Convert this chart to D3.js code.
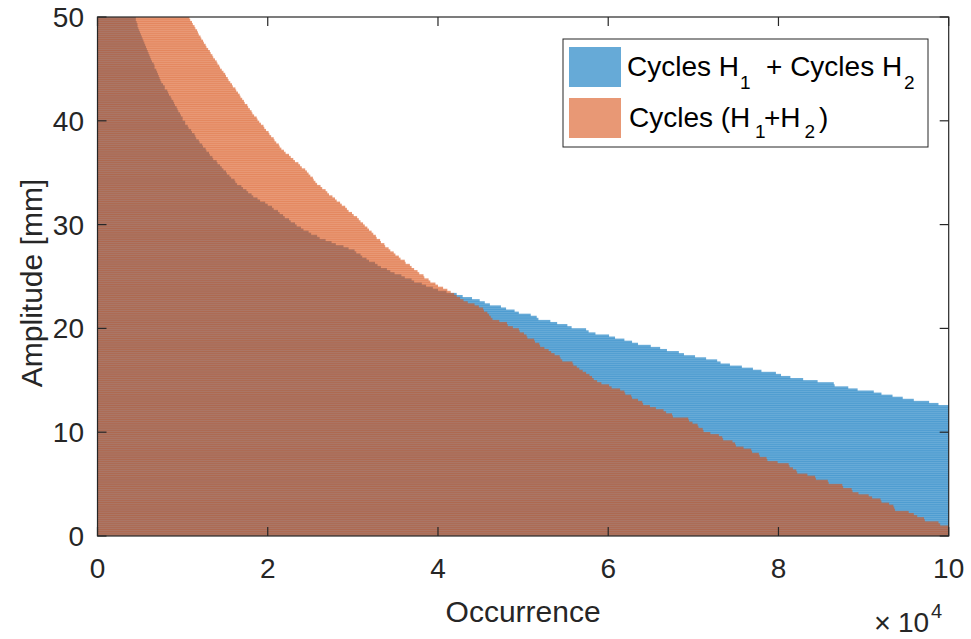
<!DOCTYPE html>
<html>
<head>
<meta charset="utf-8">
<script src="https://cdn.jsdelivr.net/npm/d3@7"></script>
<style>
  body { margin: 0; background: #fff; }
  svg { display: block; }
  text { font-family: "Liberation Sans", Arial, Helvetica, sans-serif; }
</style>
</head>
<body>
<svg id="chart" width="971" height="639"></svg>
<script>
// Amplitude bins: 0.2 mm wide, starting at 0 mm
const binWidth = 0.2;

// Occurrences per amplitude bin, in thousands of cycles
// Cycles H1 + Cycles H2 (counted separately, then added)
const separateCycles = [
  174.2, 173.0, 171.7, 170.5, 169.4, 168.1, 166.9, 165.8, 164.5, 163.3,
  162.2, 160.9, 159.7, 158.6, 157.3, 156.1, 155.0, 153.7, 152.5, 151.4,
  150.1, 148.9, 147.8, 146.5, 145.3, 144.2, 142.9, 141.7, 140.6, 139.3,
  138.1, 137.0, 135.7, 134.5, 133.4, 132.1, 130.9, 129.8, 128.5, 127.3,
  126.2, 124.9, 123.7, 122.6, 121.3, 120.1, 119.0, 117.7, 116.5, 115.4,
  114.1, 112.9, 111.8, 110.5, 109.3, 108.2, 106.9, 105.7, 104.6, 103.3,
  102.1, 100.9, 100.2, 98.8, 97.7, 95.9, 94.6, 93.4, 92.1, 91.2,
  89.3, 88.2, 86.6, 86.5, 84.6, 82.9, 81.4, 80.3, 79.7, 78.0,
  77.0, 75.7, 74.3, 73.2, 72.8, 71.5, 70.2, 68.9, 68.3, 66.9,
  66.1, 65.0, 63.5, 62.8, 61.9, 60.8, 60.1, 58.5, 57.7, 57.4,
  55.7, 55.2, 54.0, 53.2, 51.8, 51.6, 50.9, 49.5, 49.0, 48.0,
  47.4, 46.1, 45.5, 44.9, 44.0, 42.9, 42.2, 41.0, 40.0, 39.4,
  38.6, 38.1, 37.2, 36.9, 36.1, 35.7, 34.9, 34.4, 34.0, 33.3,
  32.9, 32.6, 31.9, 31.6, 31.1, 30.9, 30.4, 30.2, 29.5, 28.9,
  28.0, 27.5, 26.8, 26.1, 25.8, 25.1, 24.8, 24.2, 23.9, 23.4,
  23.2, 22.7, 22.5, 22.0, 21.8, 21.4, 21.2, 20.7, 20.5, 20.0,
  19.7, 19.1, 18.8, 18.3, 18.1, 17.7, 17.5, 17.1, 16.9, 16.4,
  16.2, 16.1, 15.7, 15.5, 15.2, 15.1, 14.8, 14.6, 14.4, 14.1,
  14.0, 13.6, 13.5, 13.2, 13.1, 12.8, 12.7, 12.4, 12.3, 12.0,
  11.9, 11.6, 11.5, 11.4, 11.1, 11.0, 10.7, 10.6, 10.3, 10.3,
  10.0, 10.0, 9.8, 9.7, 9.5, 9.4, 9.3, 9.1, 9.0, 8.9,
  8.7, 8.6, 8.4, 8.3, 8.2, 7.9, 7.9, 7.7, 7.5, 7.4,
  7.3, 7.2, 7.1, 7.0, 6.9, 6.7, 6.7, 6.6, 6.4, 6.3,
  6.2, 6.1, 6.0, 5.9, 5.8, 5.7, 5.6, 5.5, 5.4, 5.3,
  5.2, 5.1, 5.0, 4.9, 4.8, 4.7, 4.7, 4.6, 4.5, 4.5
];

// Cycles (H1+H2) (counted on the combined signal)
const combinedCycles = [
  104.8, 103.5, 102.2, 101.0, 100.3, 99.0, 98.8, 97.2, 97.1, 96.3,
  95.9, 95.3, 93.7, 93.6, 93.5, 93.0, 92.1, 92.0, 91.0, 90.6,
  89.4, 88.7, 88.6, 87.6, 87.5, 85.9, 85.8, 84.4, 84.3, 83.4,
  82.2, 82.1, 81.7, 81.3, 81.2, 79.9, 78.7, 78.6, 77.8, 77.7,
  76.9, 76.8, 75.9, 75.0, 74.9, 74.6, 73.5, 73.4, 73.0, 72.0,
  71.2, 71.1, 70.6, 70.5, 69.9, 69.5, 69.4, 67.6, 67.5, 66.8,
  66.5, 65.6, 64.9, 64.1, 64.0, 63.5, 62.8, 62.7, 62.0, 61.9,
  61.4, 60.4, 60.1, 59.2, 58.7, 58.3, 58.1, 57.8, 57.4, 57.0,
  56.6, 56.3, 55.9, 55.8, 54.6, 54.4, 54.3, 53.7, 53.3, 53.0,
  52.5, 52.0, 51.9, 51.4, 51.3, 50.5, 50.4, 50.1, 49.6, 49.5,
  48.8, 48.2, 48.1, 47.2, 46.4, 46.2, 46.0, 45.8, 45.4, 45.3,
  44.8, 44.3, 43.5, 43.0, 42.6, 42.2, 41.9, 41.5, 41.1, 40.6,
  40.0, 39.7, 39.1, 38.9, 38.4, 38.3, 37.8, 37.6, 37.2, 36.9,
  36.7, 36.2, 36.1, 35.6, 35.4, 35.0, 34.8, 34.4, 34.2, 33.8,
  33.7, 33.3, 33.2, 32.8, 32.7, 32.4, 32.2, 31.9, 31.7, 31.4,
  31.2, 30.9, 30.7, 30.5, 30.1, 29.9, 29.5, 29.3, 29.1, 28.7,
  28.5, 28.1, 27.9, 27.6, 27.2, 27.0, 26.8, 26.4, 26.2, 25.8,
  25.6, 25.4, 25.3, 25.0, 24.8, 24.6, 24.4, 24.0, 23.8, 23.6,
  23.2, 23.0, 22.7, 22.5, 22.1, 21.9, 21.6, 21.4, 21.3, 21.0,
  20.8, 20.7, 20.4, 20.2, 20.1, 19.8, 19.6, 19.5, 19.2, 19.0,
  18.8, 18.7, 18.4, 18.2, 18.1, 17.9, 17.7, 17.6, 17.3, 17.2,
  17.0, 16.8, 16.7, 16.5, 16.3, 16.2, 15.9, 15.8, 15.6, 15.4,
  15.3, 15.1, 15.0, 14.8, 14.6, 14.4, 14.3, 14.1, 14.0, 13.8,
  13.6, 13.5, 13.3, 13.2, 13.0, 12.8, 12.7, 12.5, 12.4, 12.2,
  12.1, 11.9, 11.8, 11.7, 11.5, 11.4, 11.2, 11.1, 10.9, 10.8
];

const xTickValues = [0, 20000, 40000, 60000, 80000, 100000];
const yTickValues = [0, 10, 20, 30, 40, 50];
const seriesColors = ["#0072BD", "#D95319"];

const svg = d3.select("#chart");
const plot = { left: 97.5, right: 948.7, top: 17, bottom: 536 };
const axisColor = "#262626";
const faceAlpha = 0.6;

const x = d3.scaleLinear().domain([0, 100000]).range([plot.left, plot.right]);
const y = d3.scaleLinear().domain([0, 50]).range([plot.bottom, plot.top]);

svg.append("defs").append("clipPath").attr("id", "plot-clip")
  .append("rect")
  .attr("x", plot.left).attr("y", plot.top)
  .attr("width", plot.right - plot.left).attr("height", plot.bottom - plot.top);

const toBins = values => values.map((v, i) => ({
  lo: i * binWidth, hi: (i + 1) * binWidth, count: v * 1000
}));

const barsLayer = svg.append("g").attr("clip-path", "url(#plot-clip)");

// Neighbouring bars overlap by a fraction of a pixel, which leaves a thin
// darker seam between them
const seam = 0.4;
[separateCycles, combinedCycles].forEach((values, k) => {
  barsLayer.append("g")
    .selectAll("rect")
    .data(toBins(values))
    .join("rect")
    .attr("x", x(0))
    .attr("y", d => y(d.hi) - seam / 2)
    .attr("width", d => x(d.count) - x(0))
    .attr("height", d => y(d.lo) - y(d.hi) + seam)
    .attr("fill", seriesColors[k])
    .attr("fill-opacity", faceAlpha);
});

// Axes: box with inward ticks on all four sides
const tickLen = 9;
const axes = svg.append("g").attr("stroke", axisColor).attr("stroke-width", 1.2);
xTickValues.forEach(v => {
  axes.append("line").attr("x1", x(v)).attr("x2", x(v)).attr("y1", plot.bottom).attr("y2", plot.bottom - tickLen);
  axes.append("line").attr("x1", x(v)).attr("x2", x(v)).attr("y1", plot.top).attr("y2", plot.top + tickLen);
});
yTickValues.forEach(v => {
  axes.append("line").attr("x1", plot.left).attr("x2", plot.left + tickLen).attr("y1", y(v)).attr("y2", y(v));
  axes.append("line").attr("x1", plot.right).attr("x2", plot.right - tickLen).attr("y1", y(v)).attr("y2", y(v));
});
axes.append("rect")
  .attr("x", plot.left).attr("y", plot.top)
  .attr("width", plot.right - plot.left).attr("height", plot.bottom - plot.top)
  .attr("fill", "none");

const tickFont = 28;
svg.append("g").selectAll("text").data(xTickValues).join("text")
  .attr("x", d => x(d)).attr("y", 578)
  .attr("text-anchor", "middle").attr("font-size", tickFont).attr("fill", axisColor)
  .text(d => d / 10000);

svg.append("g").selectAll("text").data(yTickValues).join("text")
  .attr("x", 84).attr("y", d => y(d) + 10)
  .attr("text-anchor", "end").attr("font-size", tickFont).attr("fill", axisColor)
  .text(d => d);

// Exponent label
const expo = svg.append("text").attr("fill", axisColor).attr("font-size", tickFont);
expo.append("tspan").attr("x", 874).attr("y", 633).attr("font-size", 29).text("\u00D7");
expo.append("tspan").attr("x", 898).attr("y", 632).text("10");
expo.append("tspan").attr("x", 931).attr("y", 618).attr("font-size", 20).text("4");

// Axis titles
svg.append("text")
  .attr("x", (plot.left + plot.right) / 2).attr("y", 622)
  .attr("text-anchor", "middle").attr("font-size", 30).attr("fill", axisColor)
  .text("Occurrence");

svg.append("text")
  .attr("transform", `translate(42, 283) rotate(-90)`)
  .attr("text-anchor", "middle").attr("font-size", 30).attr("fill", axisColor)
  .text("Amplitude [mm]");

// Legend
const legend = svg.append("g");
legend.append("rect")
  .attr("x", 563).attr("y", 39).attr("width", 365).attr("height", 108)
  .attr("fill", "#fff").attr("stroke", axisColor).attr("stroke-width", 1);

const legendRows = [
  { y: 47, base: 75.7, sub: 89.3,
    parts: [["Cycles H", 627, false], ["1", 740, true], ["+ Cycles H", 766, false], ["2", 904, true]] },
  { y: 98, base: 126.5, sub: 138,
    parts: [["Cycles (H", 629, false], ["1", 755, true], ["+H", 764, false], ["2", 804.5, true], [")", 819, false]] }
];
legendRows.forEach((row, k) => {
  legend.append("rect")
    .attr("x", 569).attr("y", row.y).attr("width", 52).attr("height", 40)
    .attr("fill", seriesColors[k]).attr("fill-opacity", faceAlpha);
  const t = legend.append("text").attr("font-size", 28).attr("fill", "#000");
  row.parts.forEach(([s, px, isSub]) => {
    t.append("tspan")
      .attr("x", px).attr("y", isSub ? row.sub : row.base)
      .attr("font-size", isSub ? 19 : 28)
      .text(s);
  });
});
</script>
</body>
</html>
